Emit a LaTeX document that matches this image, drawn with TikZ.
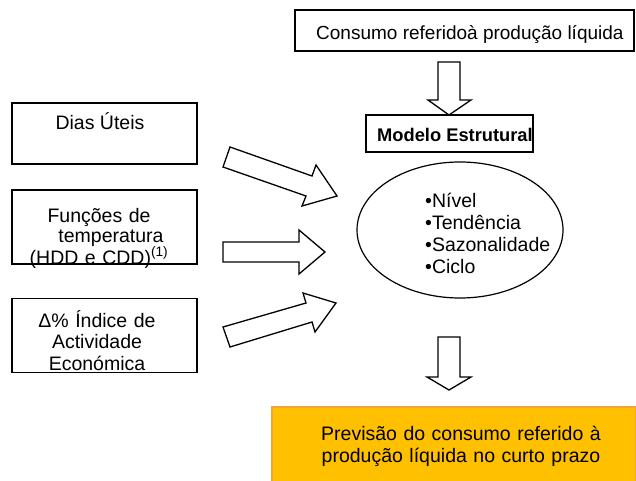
\documentclass[tikz,border=0pt]{standalone}
\usepackage{fontspec}
\setmainfont{Liberation Sans}
\usetikzlibrary{shapes.geometric}
\definecolor{goldfill}{HTML}{FFC000}
\definecolor{goldedge}{HTML}{F4A23A}
\begin{document}
\begin{tikzpicture}[x=1pt,y=-1pt,
  box/.style={draw=black, line width=1.2pt, inner sep=0pt},
  txt/.style={font=\fontsize{19.5}{21}\selectfont, inner sep=0pt},
  mtxt/.style={txt, text width=220pt, align=center},
  blockarrow/.style={draw=black, line width=1.3pt, fill=white, line join=miter}]
\useasboundingbox[fill=white] (0,0) rectangle (636,481);

% top box
\node[box, minimum width=339pt, minimum height=41pt] (consumo) at (464.5,30.5) {};
\node[txt, font=\fontsize{19}{21}\selectfont, anchor=base west] (consumotxt) at (316,40) {Consumo referidoà produção líquida};

% down arrow 1
\draw[blockarrow] (438,62) -- (460,62) -- (460,100) -- (471,100) -- (449,115) -- (428,100) -- (438,100) -- cycle;

% Modelo Estrutural
\node[box, minimum width=167pt, minimum height=37pt] (modelo) at (449.5,133.5) {};
\node[txt, font=\fontsize{18.3}{21}\bfseries, anchor=base west] (modelotxt) at (377,142) {Modelo Estrutural};

% ellipse
\node[draw=black, line width=1.2pt, ellipse, minimum width=206pt, minimum height=136pt, inner sep=0pt] (comp) at (460,230) {};
\node[txt, text width=150pt, align=left, font=\fontsize{19.5}{22.3}\selectfont, anchor=base west] (comptxt) at (425,207)
  {•Nível\\•Tendência\\•Sazonalidade\\•Ciclo};

% left boxes
\node[box, minimum width=185pt, minimum height=61pt] (dias) at (104.5,133.5) {};
\node[txt, anchor=base] (diastxt) at (100,130) {Dias Úteis};

\node[box, minimum width=185pt, minimum height=74pt] (temp) at (104.5,227) {};
\node[mtxt, font=\fontsize{19.5}{20}\selectfont, anchor=base] (temptxt) at (99,222)
  {Funções de\\\hspace*{24pt}temperatura\\(HDD e CDD)\textsuperscript{(1)}\hspace*{22pt}};

\node[box, minimum width=185pt, minimum height=74.5pt] (iae) at (104.5,335.5) {};
\node[mtxt, font=\fontsize{19.5}{21.5}\selectfont, anchor=base] (iaetxt) at (97,327)
  {Δ\% Índice de\\Actividade\\Económica};

% block arrows into the model
\draw[blockarrow] (230,147) -- (312,176) -- (316,165) -- (337,196) -- (302,206) -- (306,196) -- (223,167) -- cycle;
\draw[blockarrow] (223,242) -- (299,242) -- (299,230) -- (325,252) -- (299,274) -- (299,262) -- (223,262) -- cycle;
\draw[blockarrow] (223,327) -- (306,303) -- (303,293) -- (336,303) -- (315,332) -- (312,322) -- (230,347) -- cycle;

% down arrow 2
\draw[blockarrow] (438,337) -- (460,337) -- (460,377) -- (471,377) -- (449,390) -- (427,377) -- (438,377) -- cycle;

% forecast box
\node[fill=goldfill, draw=goldedge, line width=1.2pt, minimum width=364pt, minimum height=78pt, inner sep=0pt] (prev) at (454,446) {};
\node[mtxt, text width=340pt, font=\fontsize{19.5}{22}\selectfont, anchor=base] (prevtxt) at (461,440)
  {Previsão do consumo referido à\\produção líquida no curto prazo};
\end{tikzpicture}
\end{document}
